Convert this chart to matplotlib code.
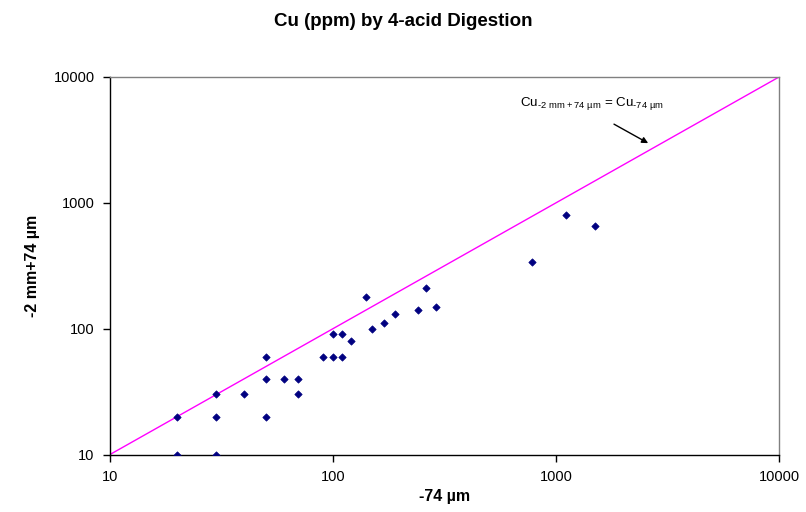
import matplotlib
matplotlib.use("Agg")
import matplotlib.pyplot as plt
from matplotlib.ticker import FixedLocator, NullLocator

plt.rcParams['font.family'] = ['Liberation Sans', 'DejaVu Sans']
plt.rcParams['mathtext.default'] = 'regular'

# Cu values (ppm): -74 um fraction vs -2 mm+74 um fraction
cu_fine = [20, 30, 20, 30, 30, 40, 50, 50, 50, 60, 70, 70,
           90, 100, 110, 100, 110, 120, 140, 150, 170, 190,
           240, 260, 290, 780, 1110, 1500]
cu_coarse = [10, 10, 20, 20, 30, 30, 20, 40, 60, 40, 40, 30,
             60, 60, 60, 90, 90, 80, 180, 100, 110, 130,
             140, 210, 150, 340, 800, 650]

one_to_one = [10, 10000]
tick_values = [10, 100, 1000, 10000]
tick_labels = ["10", "100", "1000", "10000"]


def main():
    fig = plt.figure(figsize=(8.06, 5.12), dpi=100)
    ax = fig.add_axes([110 / 806, 57.5 / 512, 669 / 806, 377.5 / 512])

    ax.plot(one_to_one, one_to_one, color='#ff00ff', lw=1.0, zorder=2)
    ax.scatter(cu_fine, cu_coarse, marker='D', s=14, c='#000080',
               edgecolors='#000080', linewidths=0.5, zorder=3)

    ax.set_xscale('log')
    ax.set_yscale('log')
    ax.set_xlim(10, 10000)
    ax.set_ylim(10, 10000)
    ax.xaxis.set_major_locator(FixedLocator(tick_values))
    ax.yaxis.set_major_locator(FixedLocator(tick_values))
    ax.set_xticklabels(tick_labels)
    ax.set_yticklabels(tick_labels)
    ax.xaxis.set_minor_locator(NullLocator())
    ax.yaxis.set_minor_locator(NullLocator())
    ax.tick_params(axis='both', which='major', direction='out', length=5,
                   width=1, labelsize=10.5, pad=6, colors='black')

    for side in ['left', 'bottom']:
        ax.spines[side].set_color('black')
        ax.spines[side].set_linewidth(1.0)
    for side in ['top', 'right']:
        ax.spines[side].set_color('#808080')
        ax.spines[side].set_linewidth(1.0)

    ax.set_xlabel("-74 µm", fontsize=11.5, fontweight='bold', labelpad=4)
    ax.set_ylabel("-2 mm+74 µm", fontsize=11.5, fontweight='bold', labelpad=10)
    fig.suptitle("Cu (ppm) by 4-acid Digestion", fontsize=13.5,
                 fontweight='bold', x=0.5, y=0.975)

    # label for the 1:1 line, hyphen (U+2010) so mathtext keeps it short
    ax.text(690, 6170, "Cu$_{\u20102\\ mm+74\\ µm}$ = Cu$_{\u201074\\ µm}$",
            fontsize=9.6, ha='left', va='center')
    ax.annotate("", xy=(2590, 2980), xytext=(1820, 4220),
                arrowprops=dict(arrowstyle='-|>', color='black', lw=1.0,
                                mutation_scale=9, shrinkA=0, shrinkB=0))

    fig.savefig("out.png", dpi=100)


if __name__ == "__main__":
    main()
